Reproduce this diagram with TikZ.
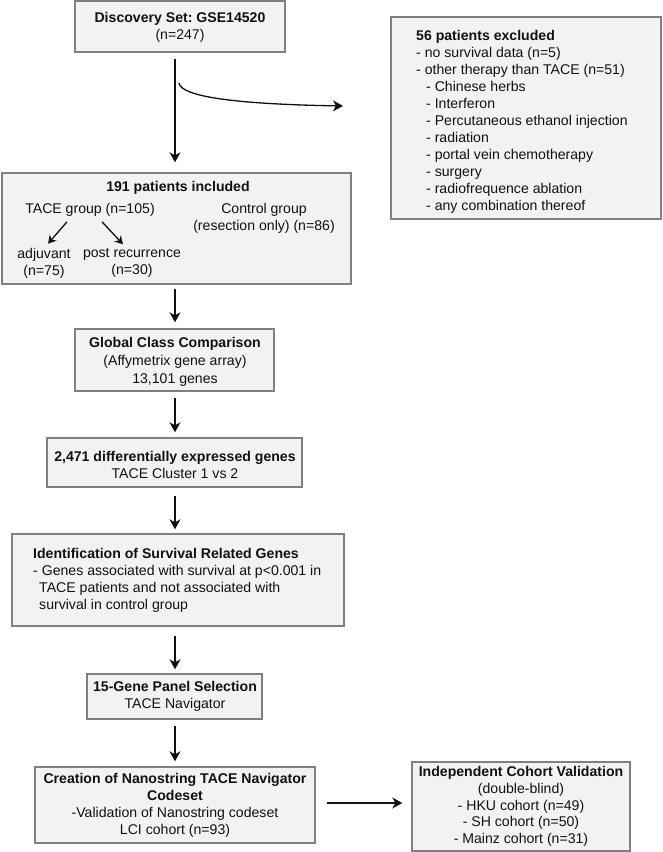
\documentclass[tikz,border=0pt]{standalone}
\usepackage{fontspec}
\setmainfont{Liberation Sans}
\usetikzlibrary{arrows.meta,calc}
\frenchspacing
\definecolor{boxfill}{HTML}{F2F2F2}
\definecolor{boxline}{HTML}{808080}
\definecolor{ink}{HTML}{111111}
\tikzset{
  box/.style={draw=boxline, fill=boxfill, line width=1.4pt, inner sep=0pt},
  txt/.style={inner sep=0pt, text=ink, font=\fontsize{14.1}{17}\selectfont},
  arr/.style={draw=ink, line width=1.4pt, -{Stealth[length=10pt,width=11pt,inset=3pt]}},
  sarr/.style={draw=ink, line width=1.3pt, -{Stealth[length=8pt,width=9pt,inset=2.5pt]}},
}
\begin{document}
\begin{tikzpicture}[x=1pt,y=-1pt]
\useasboundingbox[fill=white] (0,0) rectangle (663,852);
% boxes
\node[box, minimum width=210pt, minimum height=51pt] (b1) at (180,26.5) {};
\node[box, minimum width=270pt, minimum height=202pt] (bex) at (526,118) {};
\node[box, minimum width=349pt, minimum height=111pt] (b191) at (176.5,228.5) {};
\node[box, minimum width=199pt, minimum height=62pt] (bgl) at (174.5,360) {};
\node[box, minimum width=255pt, minimum height=49pt] (bde) at (174.5,462.5) {};
\node[box, minimum width=332pt, minimum height=92pt] (bid) at (178,580) {};
\node[box, minimum width=175pt, minimum height=45pt] (b15) at (174.5,696.5) {};
\node[box, minimum width=280pt, minimum height=76pt] (bcr) at (175,805) {};
\node[box, minimum width=218pt, minimum height=89pt] (bin) at (521,806.5) {};
% texts
\node[txt, align=center] (t1) at (180,27.5) {\textbf{Discovery Set: GSE14520}\\(n=247)};
\node[txt, align=left, anchor=west] (tex) at (416,121.5) {\textbf{56 patients excluded}\\
- no survival data (n=5)\\
- other therapy than TACE (n=51)\\
\hspace*{10pt}- Chinese herbs\\
\hspace*{10pt}- Interferon\\
\hspace*{10pt}- Percutaneous ethanol injection\\
\hspace*{10pt}- radiation\\
\hspace*{10pt}- portal vein chemotherapy\\
\hspace*{10pt}- surgery\\
\hspace*{10pt}- radiofrequence ablation\\
\hspace*{10pt}- any combination thereof};
\node[txt] (t191) at (178,188) {\textbf{191 patients included}};
\node[txt] (tace) at (90,210) {TACE group (n=105)};
\node[txt, align=center] (ctrl) at (264,218.5) {Control group\\(resection only) (n=86)};
\node[txt, align=center] (adj) at (44,263) {adjuvant\\(n=75)};
\node[txt, align=center] (post) at (132,263) {post recurrence\\(n=30)};
\node[txt, align=center, font=\fontsize{14.1}{18}\selectfont] (tgl) at (175,362) {\textbf{Global Class Comparison}\\(Affymetrix gene array)\\13,101 genes};
\node[txt, align=center] (tde) at (175,465) {\textbf{2,471 differentially expressed genes}\\TACE Cluster 1 vs 2};
\node[txt, align=left, anchor=west] (tid) at (33,580) {\textbf{Identification of Survival Related Genes}\\
- Genes associated with survival at p<0.001 in\\
\hspace*{6pt}TACE patients and not associated with\\
\hspace*{6pt}survival in control group};
\node[txt, align=center] (t15) at (175,696) {\textbf{15-Gene Panel Selection}\\TACE Navigator};
\node[txt, align=center] (tcr) at (175,805.5) {\textbf{Creation of Nanostring TACE Navigator}\\\textbf{Codeset}\\-Validation of Nanostring codeset\\LCI cohort (n=93)};
\node[txt, align=center, font=\fontsize{14.1}{16.75}\selectfont] (tin) at (521,806.5) {\textbf{Independent Cohort Validation}\\(double-blind)\\- HKU cohort (n=49)\\- SH cohort (n=50)\\- Mainz cohort (n=31)};
% connectors
\coordinate (ax) at (175,0);
\coordinate (cs) at (179,83);
\coordinate (ce) at (343,106);
\draw[arr, shorten <=6pt, shorten >=10pt] (b1.south -| ax) -- (b191.north -| ax);
\draw[arr, line width=1.3pt] (cs) .. controls (181,96) and (230,104) .. (ce);
\draw[arr, shorten <=4pt, shorten >=6pt] (b191.south -| ax) -- (bgl.north -| ax);
\draw[arr, shorten <=6pt, shorten >=5pt] (bgl.south -| ax) -- (bde.north -| ax);
\draw[arr, shorten <=8pt, shorten >=4pt] (bde.south -| ax) -- (bid.north -| ax);
\draw[arr, shorten <=9pt, shorten >=4pt] (bid.south -| ax) -- (b15.north -| ax);
\draw[arr, shorten <=6pt, shorten >=5pt] (b15.south -| ax) -- (bcr.north -| ax);
\draw[arr, shorten <=11pt, shorten >=9pt] (bcr.east |- 0,803) -- (bin.west |- 0,803);
\draw[sarr] ($(tace.south)+(-23,5)$) -- ($(adj.north)+(4,-4)$);
\draw[sarr] ($(tace.south)+(12,5)$) -- ($(post.north)+(-9,-4)$);
\end{tikzpicture}
\end{document}
